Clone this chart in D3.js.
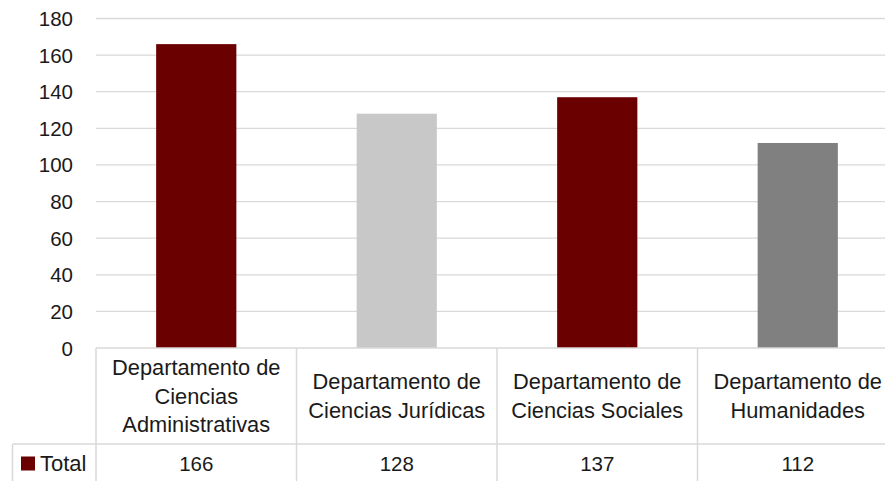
<!DOCTYPE html>
<html>
<head>
<meta charset="utf-8">
<script src="https://cdn.jsdelivr.net/npm/d3@7"></script>
<style>
  html, body { margin: 0; padding: 0; background: #fff; overflow: hidden; }
  svg { display: block; font-family: "Liberation Sans", Arial, sans-serif; }
</style>
</head>
<body>
<svg width="885" height="481"></svg>
<script>
// chart data
var categories = [
  ["Departamento de", "Ciencias", "Administrativas"],
  ["Departamento de", "Ciencias Jurídicas"],
  ["Departamento de", "Ciencias Sociales"],
  ["Departamento de", "Humanidades"]
];
var values = [166, 128, 137, 112];
var barColors = ["#6B0000", "#C8C8C8", "#6B0000", "#808080"];
var yTicks = [0, 20, 40, 60, 80, 100, 120, 140, 160, 180];
var seriesName = "Total";
var seriesColor = "#6B0000";

var svg = d3.select("svg");
var gridColor = "#D9D9D9";
var textColor = "#1a1a1a";

var plotLeft = 96, plotRight = 898;
var plotTop = 18.5, plotBottom = 348;
var rowSplit = 444, tableBottom = 490;

var x = d3.scaleBand()
  .domain(d3.range(categories.length))
  .range([plotLeft, plotRight])
  .paddingInner(0.6)
  .paddingOuter(0.3);

var y = d3.scaleLinear()
  .domain([0, 180])
  .range([plotBottom, plotTop]);

var step = (plotRight - plotLeft) / categories.length;
function cellCenter(i) { return plotLeft + step * (i + 0.5); }

// gridlines
svg.append("g").selectAll("line")
  .data(yTicks.filter(function(d) { return d > 0; }))
  .enter().append("line")
  .attr("x1", plotLeft).attr("x2", plotRight)
  .attr("y1", function(d) { return y(d); })
  .attr("y2", function(d) { return y(d); })
  .attr("stroke", gridColor)
  .attr("stroke-width", 1.3);

// y tick labels
svg.append("g").selectAll("text")
  .data(yTicks)
  .enter().append("text")
  .attr("x", 73)
  .attr("y", function(d) { return y(d) + 7.5; })
  .attr("text-anchor", "end")
  .attr("font-size", "20.5px")
  .attr("fill", textColor)
  .text(function(d) { return d; });

// bars
svg.append("g").selectAll("rect")
  .data(values)
  .enter().append("rect")
  .attr("x", function(d, i) { return x(i); })
  .attr("width", x.bandwidth())
  .attr("y", function(d) { return y(d); })
  .attr("height", function(d) { return y(0) - y(d); })
  .attr("fill", function(d, i) { return barColors[i]; });

// data table lines
var table = svg.append("g")
  .attr("stroke", gridColor)
  .attr("stroke-width", 1.5);

table.append("line")
  .attr("x1", plotLeft).attr("x2", plotRight)
  .attr("y1", plotBottom).attr("y2", plotBottom);
table.append("line")
  .attr("x1", 12.5).attr("x2", plotRight)
  .attr("y1", rowSplit).attr("y2", rowSplit);
table.append("line")
  .attr("x1", 12.5).attr("x2", 12.5)
  .attr("y1", rowSplit).attr("y2", tableBottom);
table.selectAll(".vline")
  .data(d3.range(categories.length + 1))
  .enter().append("line")
  .attr("class", "vline")
  .attr("x1", function(i) { return plotLeft + step * i; })
  .attr("x2", function(i) { return plotLeft + step * i; })
  .attr("y1", plotBottom).attr("y2", tableBottom);

// category labels
var lineH = 28.5;
var labels = svg.append("g").selectAll("text")
  .data(categories)
  .enter().append("text")
  .attr("text-anchor", "middle")
  .attr("font-size", "21.8px")
  .attr("fill", textColor);

labels.each(function(lines, i) {
  var t = d3.select(this);
  var first = (plotBottom + rowSplit) / 2 + 7.5 - (lines.length - 1) * lineH / 2;
  lines.forEach(function(s, k) {
    t.append("tspan")
      .attr("x", cellCenter(i))
      .attr("y", first + k * lineH)
      .text(s);
  });
});

// values row
svg.append("g").selectAll("text")
  .data(values)
  .enter().append("text")
  .attr("x", function(d, i) { return cellCenter(i); })
  .attr("y", 470.5)
  .attr("text-anchor", "middle")
  .attr("font-size", "20.5px")
  .attr("fill", textColor)
  .text(function(d) { return d; });

// legend key in table
svg.append("rect")
  .attr("x", 21).attr("y", 456.5)
  .attr("width", 14).attr("height", 14)
  .attr("fill", seriesColor);
svg.append("text")
  .attr("x", 40).attr("y", 470.5)
  .attr("font-size", "22px")
  .attr("fill", textColor)
  .text(seriesName);
</script>
</body>
</html>
